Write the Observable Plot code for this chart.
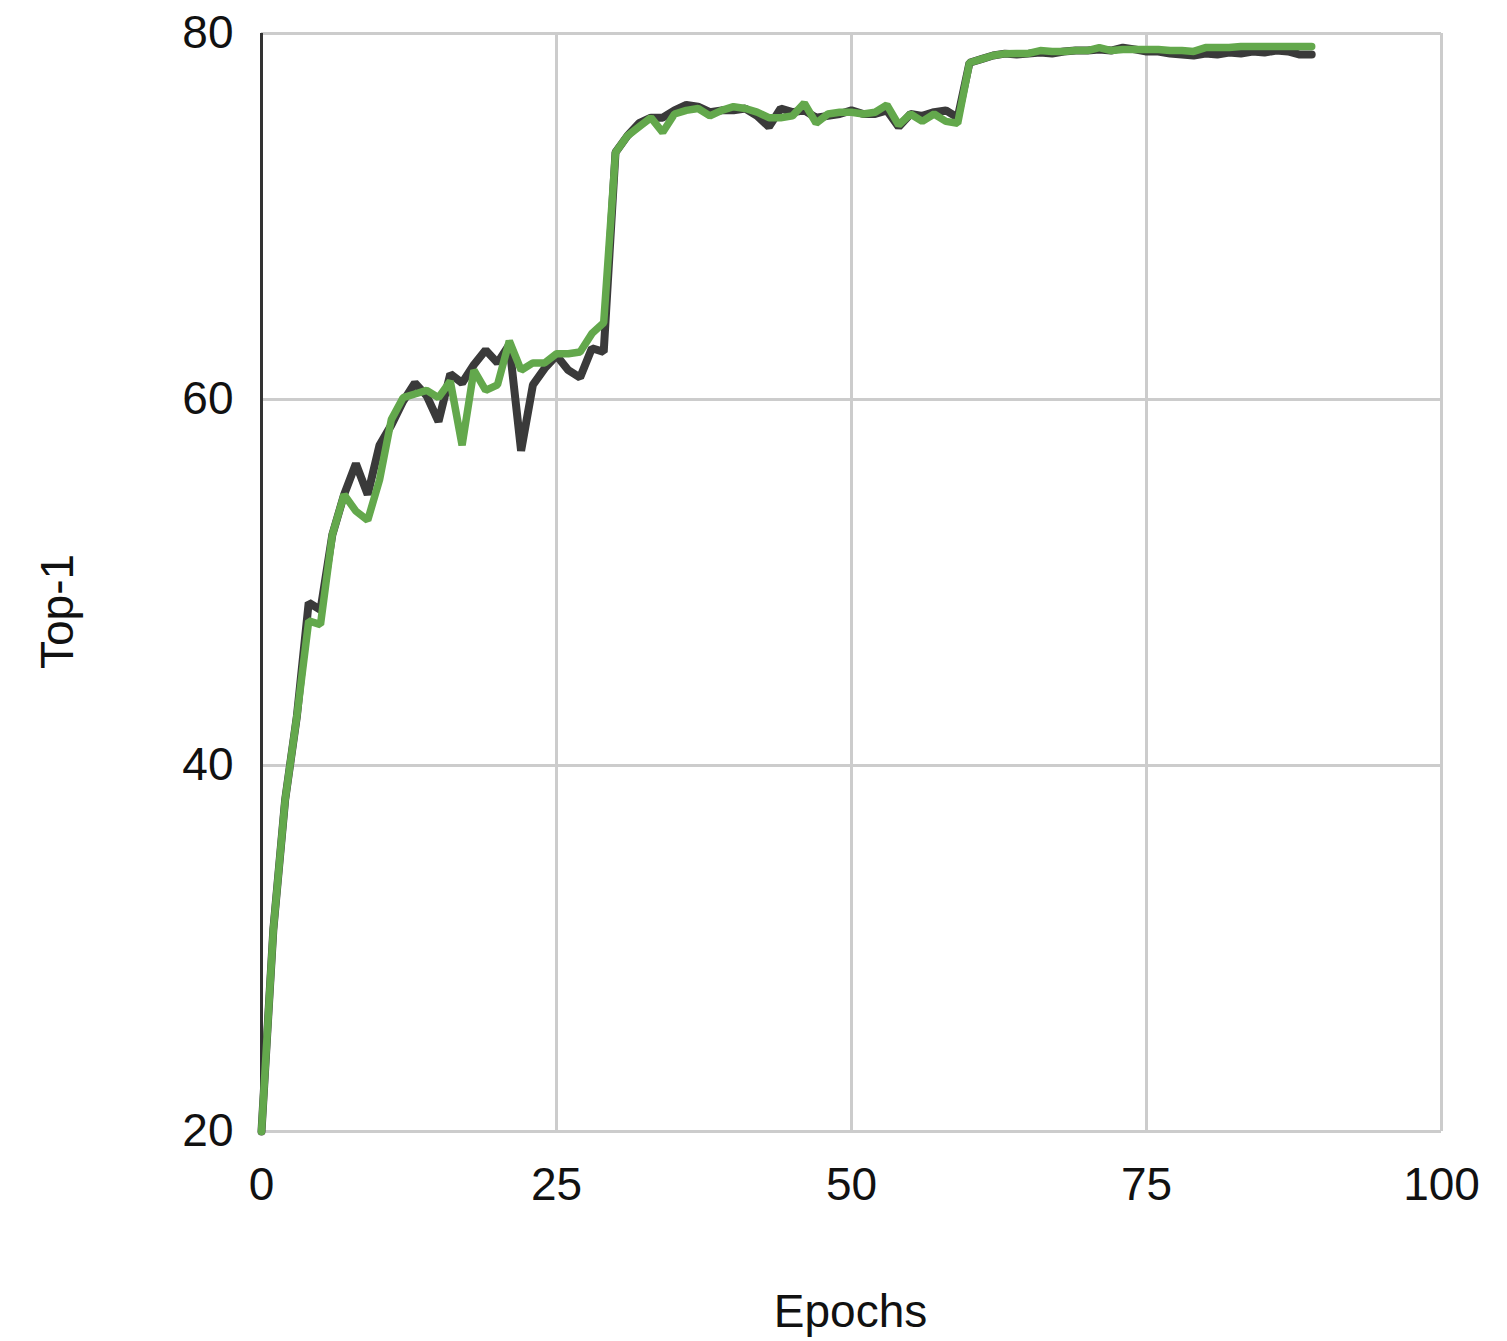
<!DOCTYPE html>
<html>
<head>
<meta charset="utf-8">
<script src="https://cdn.jsdelivr.net/npm/d3@7"></script>
<script src="https://cdn.jsdelivr.net/npm/@observablehq/plot@0.6"></script>
<style>
  html, body { margin: 0; padding: 0; background: #fff; }
  #chart svg { display: block; }
</style>
</head>
<body>
<div id="chart"></div>
<script>
const epochs = d3.range(0, 90);
const baseline = [
  20, 31, 38.1, 42.7, 48.9, 48.5, 52.6, 54.8, 56.5, 54.8,
  57.5, 58.6, 59.9, 60.9, 60.2, 58.8, 61.4, 60.9, 61.9, 62.7,
  62.0, 63.0, 57.2, 60.8, 61.7, 62.4, 61.6, 61.2, 62.8, 62.6,
  73.5, 74.4, 75.1, 75.4, 75.4, 75.8, 76.1, 76.0, 75.7, 75.8,
  75.8, 75.9, 75.5, 74.9, 75.9, 75.7, 75.8, 75.4, 75.5, 75.6,
  75.8, 75.6, 75.6, 75.8, 74.9, 75.6, 75.5, 75.7, 75.8, 75.4,
  78.4, 78.6, 78.8, 78.9, 78.85, 78.9, 78.96, 78.91, 79.02, 79.07,
  79.07, 79.13, 79.07, 79.23, 79.13, 79.02, 79.02, 78.91, 78.85, 78.8,
  78.91, 78.85, 78.96, 78.91, 79.02, 78.96, 79.07, 79.02, 78.85, 78.85
];
const ours = [
  20, 31, 38.1, 42.7, 47.9, 47.7, 52.6, 54.8, 53.9, 53.4,
  55.6, 58.9, 60.1, 60.3, 60.5, 60.1, 61.0, 57.5, 61.6, 60.5,
  60.8, 63.2, 61.6, 62.0, 62.0, 62.5, 62.5, 62.6, 63.6, 64.2,
  73.5, 74.4, 74.9, 75.4, 74.6, 75.6, 75.8, 75.9, 75.5, 75.8,
  76.0, 75.9, 75.7, 75.4, 75.4, 75.5, 76.2, 75.1, 75.6, 75.7,
  75.7, 75.6, 75.7, 76.1, 75.0, 75.6, 75.2, 75.6, 75.2, 75.1,
  78.4, 78.6, 78.8, 78.9, 78.91, 78.91, 79.07, 79.02, 79.02, 79.07,
  79.07, 79.23, 79.07, 79.13, 79.13, 79.13, 79.13, 79.07, 79.07, 79.02,
  79.23, 79.23, 79.23, 79.29, 79.29, 79.29, 79.29, 79.29, 79.29, 79.29
];
const xTicks = [0, 25, 50, 75, 100];
const yTicks = [20, 40, 60, 80];
const xTitle = "Epochs";
const yTitle = "Top-1";

const baseRows = epochs.map((e, i) => ({epoch: e, value: baseline[i]}));
const ourRows = epochs.map((e, i) => ({epoch: e, value: ours[i]}));

const chart = Plot.plot({
  width: 1507,
  height: 1341,
  marginLeft: 261,
  marginRight: 66,
  marginTop: 33,
  marginBottom: 210,
  style: {fontFamily: "'Liberation Sans', Arial, sans-serif", fontSize: "46px", color: "#111", background: "#fff"},
  x: {domain: [0, 100]},
  y: {domain: [20, 80]},
  marks: [
    Plot.gridX(xTicks, {stroke: "#cccccc", strokeOpacity: 1, strokeWidth: 3}),
    Plot.gridY(yTicks, {stroke: "#cccccc", strokeOpacity: 1, strokeWidth: 3}),
    Plot.ruleX([0], {stroke: "#333333", strokeWidth: 3}),
    Plot.axisX(xTicks, {tickSize: 0, tickPadding: 36, label: null, fontSize: 46}),
    Plot.axisY(yTicks, {tickSize: 0, tickPadding: 28, label: null, fontSize: 46}),
    Plot.text([xTitle], {frameAnchor: "bottom", textAnchor: "middle", lineAnchor: "middle", dy: 181, dx: -1, fontSize: 46, fill: "#111"}),
    Plot.text([yTitle], {frameAnchor: "left", textAnchor: "middle", lineAnchor: "middle", rotate: -90, dx: -203, dy: 29, fontSize: 46, fill: "#111"}),
    Plot.line(baseRows, {x: "epoch", y: "value", stroke: "#3a3a3a", strokeWidth: 8, strokeLinejoin: "miter"}),
    Plot.line(ourRows, {x: "epoch", y: "value", stroke: "#63a84c", strokeWidth: 7.5, strokeLinejoin: "miter"})
  ]
});
document.getElementById("chart").appendChild(chart);
</script>
</body>
</html>
